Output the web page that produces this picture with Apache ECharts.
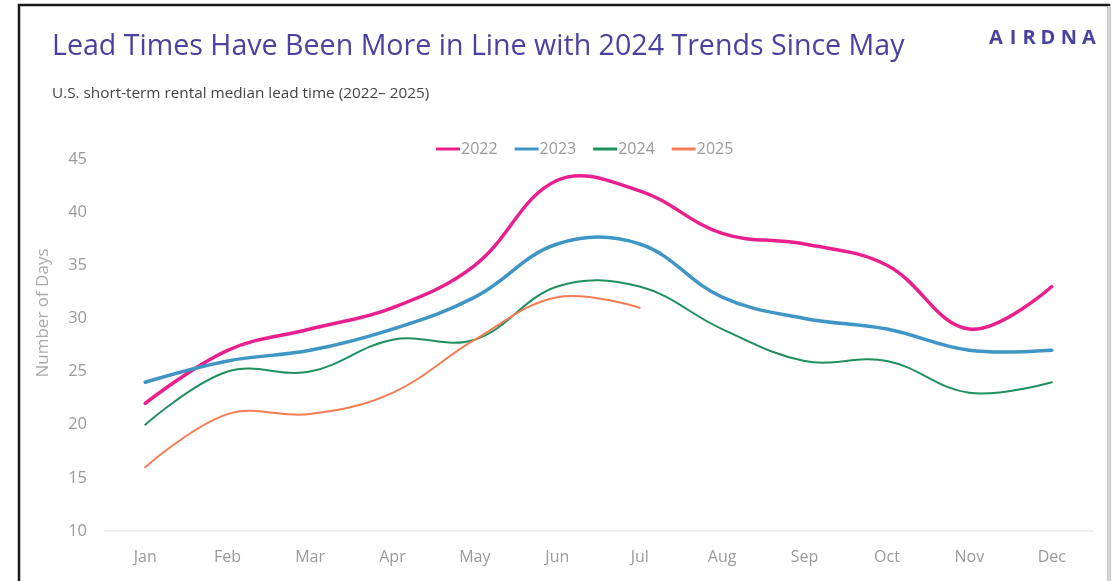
<!DOCTYPE html>
<html>
<head>
<meta charset="utf-8">
<script src="https://cdn.jsdelivr.net/npm/echarts@6/dist/echarts.min.js"></script>
<style>
html,body{margin:0;padding:0;background:#fff;}
#c{width:1114px;height:581px;}
</style>
</head>
<body>
<div id="c"></div>
<script>
const months = ['Jan','Feb','Mar','Apr','May','Jun','Jul','Aug','Sep','Oct','Nov','Dec'];
const y2022 = [22, 27, 29, 31, 35, 43, 42, 38, 37, 35, 29, 33];
const y2023 = [24, 26, 27, 29, 32, 37, 37, 32, 30, 29, 27, 27];
const y2024 = [20, 25, 25, 28, 28, 33, 33, 29, 26, 26, 23, 24];
const y2025 = [16, 21, 21, 23, 28, 32, 31];
const seriesNames = ['2022', '2023', '2024', '2025'];
const yTicks = {min: 10, max: 45, interval: 5};

const colors = ['#ea1f8e', '#3f95c4', '#1f8f5f', '#f47c55'];
const widths = [3.5, 3.5, 2, 2];
const dataSets = [y2022, y2023, y2024, y2025];

const logoLetters = ['A','I','R','D','N','A'];
const logoX = [996, 1013, 1029, 1048, 1069, 1089];

const chart = echarts.init(document.getElementById('c'), null, {renderer: 'canvas'});
const FONT = '"Open Sans", "Noto Sans", sans-serif';

const graphics = [
  {type: 'rect', shape: {x: 19, y: 5, width: 1090, height: 600},
   style: {fill: 'none', stroke: '#1a1a1a', lineWidth: 2.5}, z: 10},
  {type: 'line', shape: {x1: 1109, y1: 6, x2: 1109, y2: 581},
   style: {stroke: '#d8d8d8', lineWidth: 2}, z: 11},
  {type: 'text', x: 52, y: 47,
   style: {text: 'Lead Times Have Been More in Line with 2024 Trends Since May',
           fill: '#4a429f', font: '400 28.6px ' + FONT, verticalAlign: 'middle'}},
  {type: 'text', x: 52, y: 94,
   style: {text: 'U.S. short-term rental median lead time (2022\u2013 2025)',
           fill: '#444', font: '400 15.3px ' + FONT, verticalAlign: 'middle'}},
  {type: 'text', x: 43, y: 313, rotation: Math.PI / 2,
   style: {text: 'Number of Days', fill: '#aaa', font: '400 17px ' + FONT,
           align: 'center', verticalAlign: 'middle'}}
];
logoLetters.forEach((ch, i) => {
  graphics.push({type: 'text', x: logoX[i], y: 38,
    style: {text: ch, fill: '#4a429f', font: '700 20px ' + FONT,
            align: 'center', verticalAlign: 'middle'}});
});

function makeRenderer(values, color, width) {
  return function (params, api) {
    if (params.dataIndex !== 0) return null;
    const pts = values.map((v, i) => api.coord([i, v]));
    return {
      type: 'polyline',
      shape: {points: pts, smooth: 0.38},
      style: {stroke: color, lineWidth: width, fill: 'none', lineJoin: 'round', lineCap: 'round'},
      silent: true
    };
  };
}

chart.setOption({
  animation: false,
  backgroundColor: '#fff',
  graphic: graphics,
  legend: {
    top: 141, left: 436, padding: 0,
    itemWidth: 24, itemHeight: 3, itemGap: 17,
    icon: 'rect',
    textStyle: {color: '#9a9a9a', fontSize: 16, fontFamily: FONT, padding: [0,0,0,-4]},
    data: seriesNames
  },
  grid: {left: 104, right: 21, top: 159, bottom: 50, containLabel: false},
  xAxis: {
    type: 'category', data: months, boundaryGap: true,
    axisLine: {lineStyle: {color: '#e8e8e8', width: 1.5}},
    axisTick: {show: false},
    axisLabel: {color: '#9a9a9a', fontSize: 16, fontFamily: FONT, margin: 18}
  },
  yAxis: {
    type: 'value', min: yTicks.min, max: yTicks.max, interval: yTicks.interval,
    axisLine: {show: false}, axisTick: {show: false},
    splitLine: {show: false},
    axisLabel: {color: '#9a9a9a', fontSize: 16.5, fontFamily: FONT, margin: 17}
  },
  series: dataSets.map((d, i) => ({
    name: seriesNames[i], type: 'custom',
    data: d.map((v, j) => [j, v]),
    encode: {x: 0, y: 1},
    itemStyle: {color: colors[i]},
    renderItem: makeRenderer(d, colors[i], widths[i]),
    clip: false
  }))
});
</script>
</body>
</html>
